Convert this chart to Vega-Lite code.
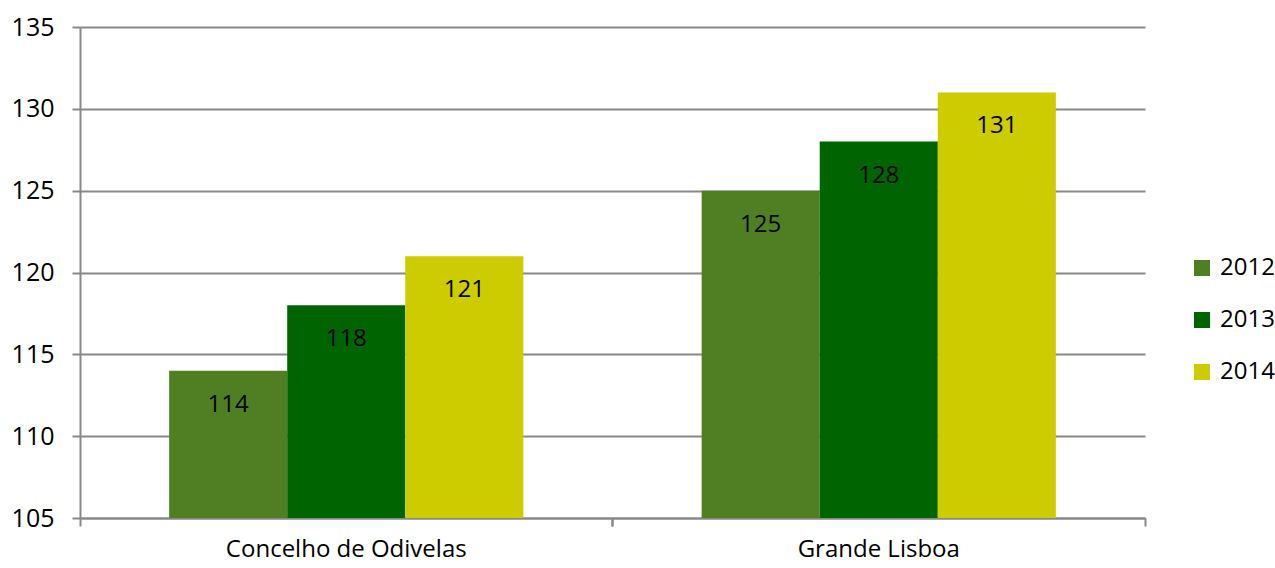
{
  "$schema": "https://vega.github.io/schema/vega-lite/v6.json",
  "autosize": "none",
  "width": 1065,
  "height": 491,
  "padding": {"left": 80, "top": 27, "right": 130, "bottom": 50},
  "background": "white",
  "config": {
    "view": {"stroke": null},
    "font": "Open Sans"
  },
  "data": {
    "values": [
      {"region": "Concelho de Odivelas", "year": "2012", "value": 114},
      {"region": "Concelho de Odivelas", "year": "2013", "value": 118},
      {"region": "Concelho de Odivelas", "year": "2014", "value": 121},
      {"region": "Grande Lisboa", "year": "2012", "value": 125},
      {"region": "Grande Lisboa", "year": "2013", "value": 128},
      {"region": "Grande Lisboa", "year": "2014", "value": 131}
    ]
  },
  "resolve": {"axis": {"x": "independent"}},
  "encoding": {
    "xOffset": {
      "field": "year", "type": "nominal",
      "scale": {"paddingInner": 0, "paddingOuter": 0.755}
    },
    "y": {
      "field": "value", "type": "quantitative",
      "scale": {"domain": [105, 135], "nice": false, "zero": false},
      "axis": {
        "title": null, "values": [105, 110, 115, 120, 125, 130, 135],
        "labelFontSize": 25, "labelColor": "#000000", "labelPadding": 18,
        "tickSize": 8, "tickColor": "#888888", "tickWidth": 2,
        "domainColor": "#888888", "domainWidth": 2,
        "grid": true, "gridColor": "#888888", "gridWidth": 2, "labelFont": "Open Sans"
      }
    }
  },
  "layer": [
    {
      "mark": {"type": "bar", "clip": true},
      "encoding": {
        "x": {
          "field": "region", "type": "nominal", "sort": null,
          "scale": {"paddingInner": 0, "paddingOuter": 0},
          "axis": {
            "title": null, "orient": "bottom", "labelAngle": 0, "bandPosition": 0, "labelLimit": 0,
            "labelFontSize": 24, "labelColor": "#000000",
            "labelPadding": 11, "tickSize": 8, "tickColor": "#888888", "tickWidth": 2,
            "domainColor": "#888888", "domainWidth": 2, "grid": false, "labelFont": "Open Sans"
          }
        },
        "color": {
          "field": "year", "type": "nominal",
          "scale": {"domain": ["2012", "2013", "2014"], "range": ["#507F23", "#006400", "#CCCC00"]},
          "legend": {
            "title": null, "orient": "none", "legendX": 1110, "legendY": 229,
            "symbolType": "square", "symbolSize": 256, "symbolStrokeWidth": 0,
            "labelFontSize": 24, "labelColor": "#000000", "rowPadding": 28,
            "labelOffset": 6, "padding": 0, "labelFont": "Open Sans"
          }
        }
      }
    },
    {
      "mark": {"type": "text", "baseline": "middle", "dy": 34, "fontSize": 24, "color": "#000000", "font": "Open Sans"},
      "encoding": {
        "x": {
          "field": "region", "type": "nominal", "sort": null,
          "scale": {"paddingInner": 0, "paddingOuter": 0},
          "axis": {
            "title": null, "orient": "bottom", "bandPosition": 1, "labels": false, "domain": false,
            "tickSize": 8, "tickColor": "#888888", "tickWidth": 2, "grid": false
          }
        },
        "text": {"field": "value", "type": "quantitative"}
      }
    }
  ]
}
